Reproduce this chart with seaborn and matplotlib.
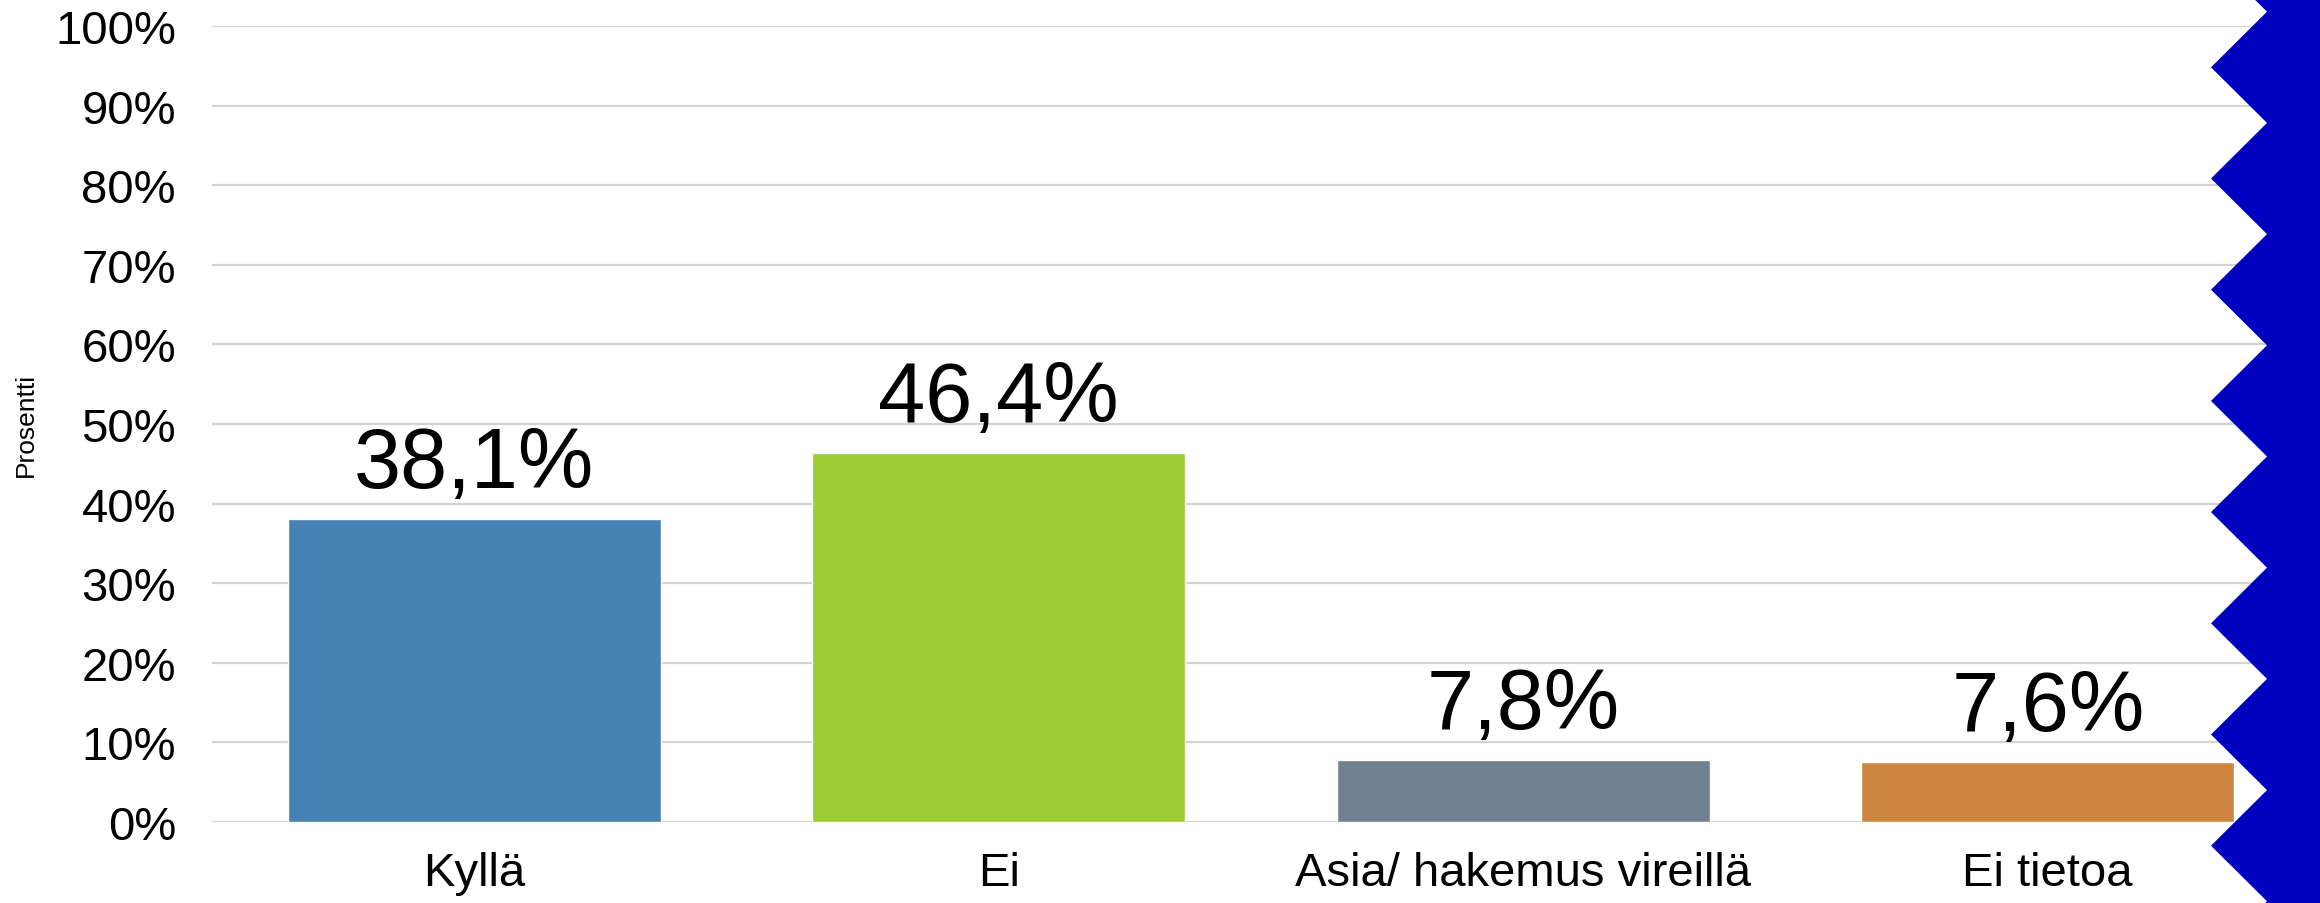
import matplotlib
matplotlib.use("Agg")
import matplotlib.pyplot as plt
from matplotlib.patches import Polygon
import seaborn as sns

categories = ["Kyllä", "Ei", "Asia/ hakemus vireillä", "Ei tietoa"]
values = [38.1, 46.4, 7.8, 7.6]
bar_colors = ["#4682B4", "#9ACD32", "#708090", "#CD853F"]
y_ticks = [0, 10, 20, 30, 40, 50, 60, 70, 80, 90, 100]
y_label = "Prosentti"

sns.set_theme(style="white")
plt.rcParams["font.family"] = ["Liberation Sans", "DejaVu Sans"]

W, H = 2320, 904
fig = plt.figure(figsize=(W / 100, H / 100), dpi=100)
fig.patch.set_facecolor("white")

# decorative blue zigzag strip on the right edge (figure pixel coords)
period = 111.2
xr, xl = 2267, 2211
pts = []
for k in range(-1, 10):
    yr = 12.7 + k * period
    yl = 68.3 + k * period
    pts.append((xr, yr))
    pts.append((xl, yl))
poly = [(x / W, 1 - y / H) for x, y in pts]
poly += [(1.01, 1 - pts[-1][1] / H), (1.01, 1 - pts[0][1] / H)]
fig.patches.append(Polygon(poly, closed=True, transform=fig.transFigure,
                           facecolor="#0000BF", edgecolor="none", zorder=0))

ax = fig.add_axes([212 / W, 1 - 823 / H, (2310 - 212) / W, (823 - 27) / H])
ax.set_facecolor("none")

sns.barplot(x=categories, y=values, hue=categories, palette=bar_colors,
            width=0.712, legend=False, saturation=1, ax=ax, zorder=2)

ax.set_xlim(-0.5, 3.5)
ax.set_ylim(0, 100)
ax.set_yticks(y_ticks)
ax.set_yticklabels([f"{t}%" for t in y_ticks])
ax.yaxis.grid(True, color="#D3D3D3", linewidth=1.6, zorder=0)
ax.xaxis.grid(False)
ax.set_axisbelow(True)
for s in ax.spines.values():
    s.set_visible(False)
ax.tick_params(axis="y", length=0, pad=26, labelsize=34, labelcolor="black")
ax.tick_params(axis="x", length=0, pad=21, labelsize=34, labelcolor="black")

ax.set_xlabel("")
ax.set_ylabel(y_label, fontsize=19, color="black")
ax.yaxis.set_label_coords((38 - 212) / (2310 - 212), 0.5)

for i, v in enumerate(values):
    ax.annotate(f"{v:.1f}%".replace(".", ","), xy=(i, v), xytext=(0, 10),
                textcoords="offset points", ha="center", va="bottom",
                fontsize=61, color="black")

fig.savefig("out.png", dpi=100, facecolor="white")
